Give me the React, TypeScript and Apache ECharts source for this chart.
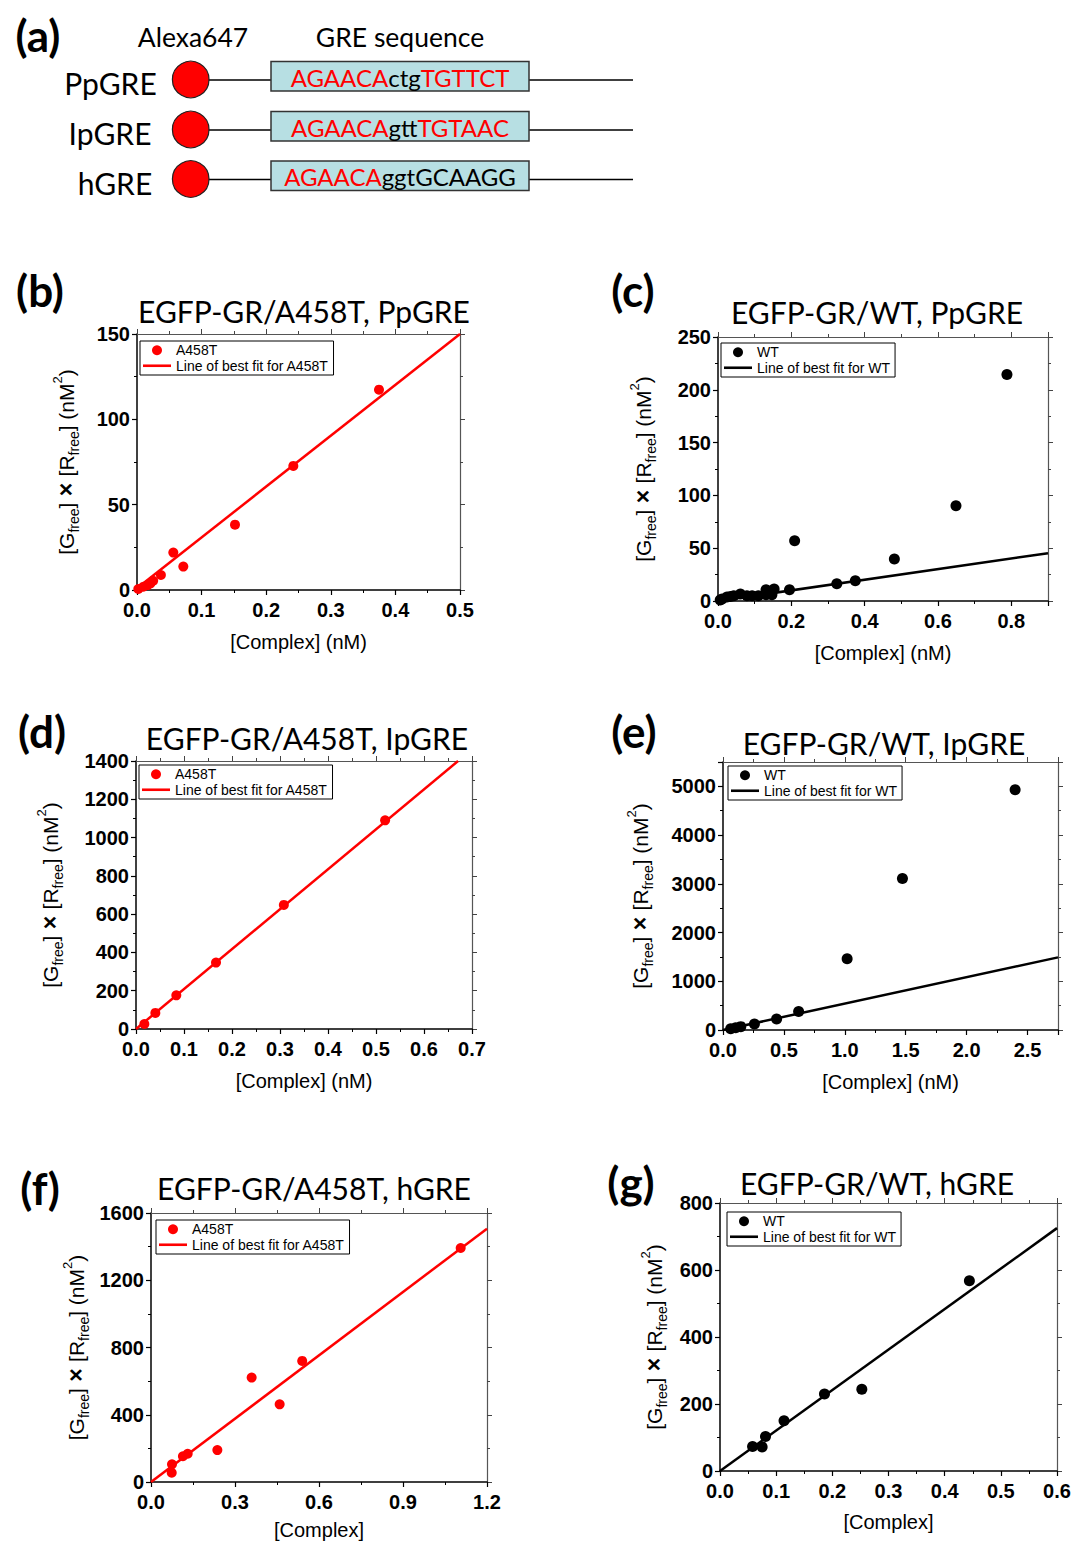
import React, { useEffect, useRef } from "react";
import * as echarts from "echarts";

// ---------- DATA ----------
// (a) probe sequences
const probeNames = ["PpGRE", "IpGRE", "hGRE"];
const seqHalf1 = ["AGAACA", "AGAACA", "AGAACA"];
const seqSpacer = ["ctg", "gtt", "ggt"];
const seqHalf2 = ["TGTTCT", "TGTAAC", "GCAAGG"];
const seqHalf2Red = [true, true, false];

// (b) EGFP-GR/A458T, PpGRE
const bComplex = [0.002, 0.0098, 0.0165, 0.021, 0.025, 0.037, 0.0562, 0.0717, 0.1517, 0.242, 0.3746];
const bProduct = [0.6, 1.9, 2.9, 3.9, 5.4, 8.8, 21.9, 13.7, 38.3, 72.7, 117.4];
const bFitComplex = [0, 0.5];
const bFitProduct = [1, 150];

// (c) EGFP-GR/WT, PpGRE
const cComplex = [0.006, 0.011, 0.0245, 0.034, 0.043, 0.061, 0.079, 0.093, 0.11, 0.131, 0.131, 0.147, 0.153, 0.195, 0.209, 0.324, 0.3745, 0.481, 0.649, 0.788];
const cProduct = [0.9, 1.9, 3.8, 4.2, 5.0, 6.6, 5.0, 5.0, 5.0, 6.0, 10.7, 6.0, 11.3, 10.7, 57.0, 16.3, 19.2, 39.7, 90.1, 214.4];
const cFitComplex = [0, 0.9];
const cFitProduct = [0, 45.3];

// (d) EGFP-GR/A458T, IpGRE
const dComplex = [0.0174, 0.0403, 0.084, 0.1667, 0.308, 0.519];
const dProduct = [26, 84, 176, 347, 648, 1090];
const dFitComplex = [0, 0.671];
const dFitProduct = [0, 1400];

// (e) EGFP-GR/WT, IpGRE
const eComplex = [0.063, 0.104, 0.146, 0.258, 0.44, 0.621, 1.019, 1.473, 2.398];
const eProduct = [27, 48, 69, 124, 227, 378, 1463, 3111, 4931];
const eFitComplex = [0, 2.75];
const eFitProduct = [0, 1490];

// (f) EGFP-GR/A458T, hGRE
const fComplex = [0.074, 0.075, 0.114, 0.131, 0.237, 0.3595, 0.4595, 0.54, 1.106];
const fProduct = [55, 105, 153, 168, 190, 621, 462, 720, 1392];
const fFitComplex = [0, 1.2];
const fFitProduct = [0, 1507];

// (g) EGFP-GR/WT, hGRE
const gComplex = [0.058, 0.075, 0.081, 0.114, 0.186, 0.2525, 0.444];
const gProduct = [73, 72, 103, 150, 230, 244, 568];
const gFitComplex = [0, 0.6];
const gFitProduct = [0, 725];

// ---------- LAYOUT / STYLE ----------
const CAL = "Lato, 'Open Sans', sans-serif";
const ARIAL = "'Liberation Sans', Arial, sans-serif";
const RED = "#ff0000";
const BLACK = "#000000";
const LINE_ICON = "path://M0,0H28V2.6H0Z";

const panels = [
  { x: bComplex, y: bProduct, fx: bFitComplex, fy: bFitProduct, name: "A458T", color: RED, size: 10,
    grid: { left: 137, top: 334, width: 323, height: 256 }, xMax: 0.5, xInt: 0.1, yMax: 150, yInt: 50,
    xName: "[Complex] (nM)", xGap: 42, yGap: 56, legend: { left: 140, top: 341 },
    title: "EGFP-GR/A458T, PpGRE", tx: 304, ty: 311, label: "(b)", lx: 40, ly: 290 },
  { x: cComplex, y: cProduct, fx: cFitComplex, fy: cFitProduct, name: "WT", color: BLACK, size: 11,
    grid: { left: 718, top: 337, width: 330, height: 264 }, xMax: 0.9, xInt: 0.2, yMax: 250, yInt: 50,
    xName: "[Complex] (nM)", xGap: 42, yGap: 60, legend: { left: 721, top: 343 },
    title: "EGFP-GR/WT, PpGRE", tx: 877, ty: 312, label: "(c)", lx: 633, ly: 290 },
  { x: dComplex, y: dProduct, fx: dFitComplex, fy: dFitProduct, name: "A458T", color: RED, size: 10,
    grid: { left: 136, top: 761, width: 336, height: 268 }, xMax: 0.7, xInt: 0.1, yMax: 1400, yInt: 200,
    xName: "[Complex] (nM)", xGap: 42, yGap: 71, legend: { left: 139, top: 765 },
    title: "EGFP-GR/A458T, IpGRE", tx: 307, ty: 738, label: "(d)", lx: 42, ly: 731 },
  { x: eComplex, y: eProduct, fx: eFitComplex, fy: eFitProduct, name: "WT", color: BLACK, size: 11,
    grid: { left: 723, top: 762, width: 335, height: 268 }, xMax: 2.75, xInt: 0.5, yMax: 5500, yInt: 1000,
    xName: "[Complex] (nM)", xGap: 42, yGap: 68, legend: { left: 728, top: 766 },
    title: "EGFP-GR/WT, IpGRE", tx: 884, ty: 743, label: "(e)", lx: 634, ly: 731 },
  { x: fComplex, y: fProduct, fx: fFitComplex, fy: fFitProduct, name: "A458T", color: RED, size: 10,
    grid: { left: 151, top: 1213, width: 336, height: 269 }, xMax: 1.2, xInt: 0.3, yMax: 1600, yInt: 400,
    xName: "[Complex]", xGap: 38, yGap: 60, legend: { left: 156, top: 1220 },
    title: "EGFP-GR/A458T, hGRE", tx: 314, ty: 1188, label: "(f)", lx: 40, ly: 1188 },
  { x: gComplex, y: gProduct, fx: gFitComplex, fy: gFitProduct, name: "WT", color: BLACK, size: 11,
    grid: { left: 720, top: 1203, width: 337, height: 268 }, xMax: 0.6, xInt: 0.1, yMax: 800, yInt: 200,
    xName: "[Complex]", xGap: 41, yGap: 51, legend: { left: 727, top: 1212 },
    title: "EGFP-GR/WT, hGRE", tx: 877, ty: 1183, label: "(g)", lx: 631, ly: 1182 },
];

const rowY = [80, 130, 179.5];
const rowLabelX = [110.5, 110, 115];

const yName = "{n|[G}{s|free}{n|]}{x| × }{n|[R}{s|free}{n|] (nM}{p|2}{n|)}";

function fmt(int: number, dec: number) {
  return (v: number) => (Math.abs(v / int - Math.round(v / int)) < 1e-6 ? v.toFixed(dec) : "");
}

function txt(text: string, x: number, y: number, fontSize: number, extra: any = {}) {
  return {
    type: "text", x, y, silent: true,
    style: { text, fontSize, fontFamily: CAL, fill: "#000", textAlign: "center", textVerticalAlign: "middle", ...extra },
  };
}

function buildOption() {
  const grids: any[] = [];
  const xAxes: any[] = [];
  const yAxes: any[] = [];
  const series: any[] = [];
  const legends: any[] = [];
  const graphics: any[] = [];

  panels.forEach((p, i) => {
    grids.push({ ...p.grid, containLabel: false, outerBoundsMode: "none" });
    const base = (max: number, int: number) => ({
      type: "value", gridIndex: i, min: 0, max, interval: int,
      splitLine: { show: false }, minorSplitLine: { show: false },
    });
    const mainLine = { show: true, onZero: false, lineStyle: { color: "#000", width: 1.5 } };
    const mirrorLine = { show: true, onZero: false, lineStyle: { color: "#555", width: 1.2 } };
    const tick = { show: true, inside: false, length: 5, lineStyle: { color: "#000", width: 1.2 } };
    const minor = { show: true, splitNumber: 2, length: 3, lineStyle: { color: "#000", width: 1 } };
    const mirrorTick = { show: true, inside: false, length: 5, lineStyle: { color: "#444", width: 1 } };
    const mirrorMinor = { show: true, splitNumber: 2, length: 3, lineStyle: { color: "#444", width: 1 } };
    const tickLabel = { fontFamily: ARIAL, fontWeight: "bold", fontSize: 20, color: "#000" };

    xAxes.push({
      ...base(p.xMax, p.xInt), position: "bottom", axisLine: mainLine, axisTick: tick, minorTick: minor,
      axisLabel: { ...tickLabel, margin: 10, formatter: fmt(p.xInt, 1) },
      name: p.xName, nameLocation: "middle", nameGap: p.xGap,
      nameTextStyle: { fontFamily: ARIAL, fontSize: 20, color: "#000" },
    });
    xAxes.push({
      ...base(p.xMax, p.xInt), position: "top", axisLine: mirrorLine, axisTick: mirrorTick, minorTick: mirrorMinor,
      axisLabel: { show: false },
    });
    yAxes.push({
      ...base(p.yMax, p.yInt), position: "left", axisLine: mainLine, axisTick: tick, minorTick: minor,
      axisLabel: { ...tickLabel, margin: 7, formatter: fmt(p.yInt, 0) },
      name: yName, nameLocation: "middle", nameGap: p.yGap,
      nameTextStyle: {
        fontFamily: ARIAL, fontSize: 21, color: "#000",
        rich: {
          n: { fontFamily: ARIAL, fontSize: 21, lineHeight: 30, color: "#000" },
          s: { fontFamily: ARIAL, fontSize: 14, lineHeight: 14, verticalAlign: "bottom", color: "#000" },
          p: { fontFamily: ARIAL, fontSize: 13, lineHeight: 12, verticalAlign: "top", color: "#000" },
          x: { fontFamily: ARIAL, fontSize: 23, fontWeight: "bold", lineHeight: 30, color: "#000" },
        },
      },
    });
    yAxes.push({
      ...base(p.yMax, p.yInt), position: "right", axisLine: mirrorLine, axisTick: mirrorTick, minorTick: mirrorMinor,
      axisLabel: { show: false },
    });

    const fitName = "Line of best fit for " + p.name;
    series.push({
      type: "scatter", name: p.name, xAxisIndex: 2 * i, yAxisIndex: 2 * i,
      data: p.x.map((v, k) => [v, p.y[k]]), symbol: "circle", symbolSize: p.size,
      itemStyle: { color: p.color, opacity: 1 }, clip: false, z: 3,
    });
    series.push({
      type: "line", name: fitName, xAxisIndex: 2 * i, yAxisIndex: 2 * i,
      data: p.fx.map((v, k) => [v, p.fy[k]]), symbol: "none", showSymbol: false,
      lineStyle: { color: p.color, width: 2.5 }, itemStyle: { color: p.color }, z: 2,
    });
    legends.push({
      left: p.legend.left, top: p.legend.top, orient: "vertical",
      data: [
        { name: p.name, icon: "circle" },
        { name: fitName, icon: LINE_ICON },
      ],
      itemWidth: 28, itemHeight: 10, itemGap: 1, padding: [2, 5, 2, 3],
      borderColor: "#000", borderWidth: 1, backgroundColor: "#fff", selectedMode: false,
      textStyle: { fontFamily: ARIAL, fontSize: 14, color: "#000", lineHeight: 14.5 },
    });

    graphics.push(txt(p.title, p.tx, p.ty, 30));
    graphics.push(txt(p.label, p.lx, p.ly, 44, { fontWeight: "bold" }));
  });

  // ----- panel (a) -----
  graphics.push(txt("(a)", 38, 35, 44, { fontWeight: "bold" }));
  graphics.push(txt("Alexa647", 193, 37, 26.5));
  graphics.push(txt("GRE sequence", 400, 37, 26.5));
  probeNames.forEach((nm, r) => {
    const cy = rowY[r];
    graphics.push({ type: "line", silent: true, shape: { x1: 205, y1: cy, x2: 271, y2: cy }, style: { stroke: "#000", lineWidth: 1.5 } });
    graphics.push({ type: "line", silent: true, shape: { x1: 529, y1: cy, x2: 633, y2: cy }, style: { stroke: "#000", lineWidth: 1.5 } });
    graphics.push({ type: "circle", silent: true, shape: { cx: 190.7, cy: cy - 0.5, r: 18.3 }, style: { fill: RED, stroke: "#222", lineWidth: 1.2 } });
    graphics.push({ type: "rect", silent: true, shape: { x: 271, y: cy - 18.5, width: 258, height: 29.5 }, style: { fill: "#b7dfe3", stroke: "#333", lineWidth: 1.5 } });
    graphics.push(txt(nm, rowLabelX[r], cy + 3, 30));
    const tail = seqHalf2Red[r] ? "r" : "k";
    graphics.push({
      type: "text", silent: true, x: 400, y: cy - 3,
      style: {
        text: `{r|${seqHalf1[r]}}{k|${seqSpacer[r]}}{${tail}|${seqHalf2[r]}}`,
        textAlign: "center", textVerticalAlign: "middle", fontSize: 24, fontFamily: CAL,
        rich: {
          r: { fill: RED, fontSize: 24, fontFamily: CAL },
          k: { fill: "#000", fontSize: 24, fontFamily: CAL },
        },
      },
    });
  });

  return {
    animation: false,
    backgroundColor: "#ffffff",
    grid: grids,
    xAxis: xAxes,
    yAxis: yAxes,
    series,
    legend: legends,
    graphic: { elements: graphics },
  };
}

export default function App() {
  const ref = useRef<HTMLDivElement>(null);
  useEffect(() => {
    if (!ref.current) return;
    const chart = echarts.init(ref.current, undefined, { renderer: "svg" });
    chart.setOption(buildOption() as any);
    return () => chart.dispose();
  }, []);
  return (
    <div
      ref={ref}
      style={{ position: "absolute", left: 0, top: 0, width: 1072, height: 1543, background: "#fff" }}
    />
  );
}
